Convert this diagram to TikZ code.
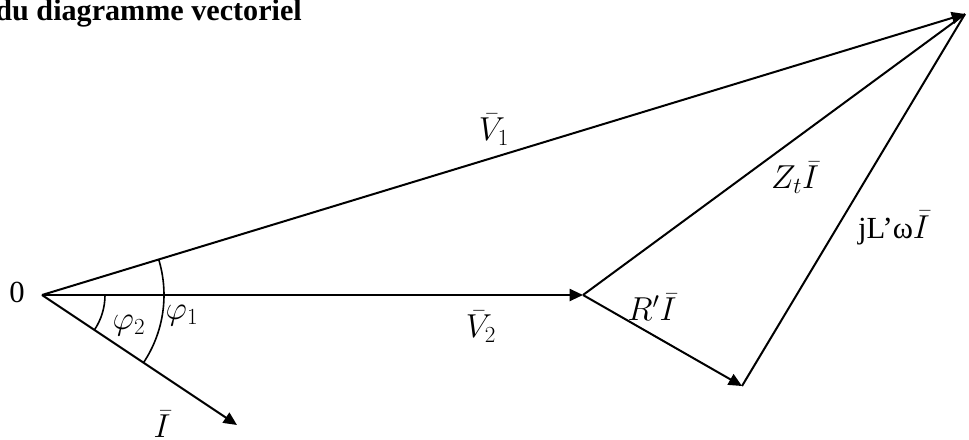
\documentclass[tikz,border=0pt]{standalone}
\usepackage{fontspec}
\setmainfont{Liberation Serif}
\usetikzlibrary{arrows.meta}
\begin{document}
\begin{tikzpicture}[x=0.75pt,y=-0.75pt,
  vec/.style={line width=1.5pt,-{Triangle[length=10pt,width=9pt]}},
  seg/.style={line width=1.5pt},
  arcl/.style={line width=1.2pt},
  lbl/.style={font=\fontsize{23}{26}\selectfont,inner sep=0pt}]
\useasboundingbox (0,0) rectangle (969,439);
\coordinate (O) at (42,295);
\coordinate (A) at (583,295);
\coordinate (B) at (965,14);
\coordinate (C) at (742,386);
\coordinate (D) at (237,425);
\node[font=\bfseries\fontsize{22.6}{26}\selectfont,anchor=base east,inner sep=0pt] (title) at (302,20) {du diagramme vectoriel};
\draw[seg] (A) -- (B);
\draw[seg] (C) -- (B);
\draw[vec] (O) -- (B);
\draw[vec] (O) -- (A);
\draw[vec] (A) -- (C);
\draw[vec] (O) -- (D);
\draw[arcl] (O) ++(0:63) arc[start angle=0,end angle=33.7,radius=63];
\draw[arcl] (O) ++(-16.9:122) arc[start angle=-16.9,end angle=33.7,radius=122];
\node[lbl] (l0) at (17,292) {0};
\node[lbl] (lp2) at (129,326) {$\varphi_2$};
\node[lbl] (lp1) at (182,316) {$\varphi_1$};
\node[lbl] (lI) at (162,424) {$\bar{I}$};
\node[lbl] (lV2) at (481,327) {$\bar{V}_2$};
\node[lbl] (lR) at (652,307) {$R'\bar{I}$};
\node[lbl] (lV1) at (494,130) {$\bar{V}_1$};
\node[lbl] (lZ) at (795,178) {$Z_t\bar{I}$};
\node[lbl] (lL) at (894,228) {jL’ω$\bar{I}$};
\end{tikzpicture}
\end{document}
